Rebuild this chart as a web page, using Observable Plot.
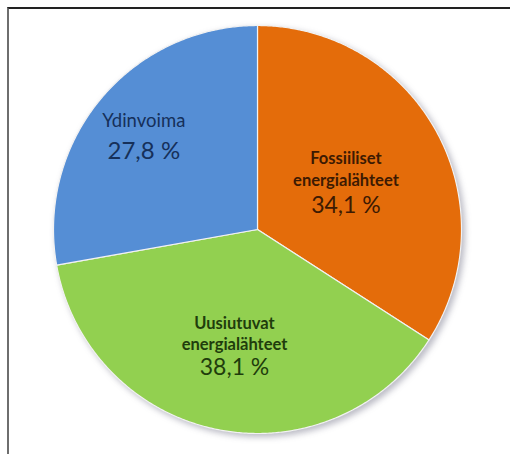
<!DOCTYPE html>
<html>
<head>
<meta charset="utf-8">
<script src="https://cdn.jsdelivr.net/npm/d3@7"></script>
<script src="https://cdn.jsdelivr.net/npm/@observablehq/plot@0.6"></script>
<style>
  html, body { margin: 0; padding: 0; background: #fff; }
  #wrap { position: relative; width: 510px; height: 454px; overflow: hidden; }
  #frame { position: absolute; left: 7px; top: 7px; width: 700px; height: 700px;
           border-top: 2px solid #222; border-left: 2px solid #6e6e6e; pointer-events: none; }
</style>
</head>
<body>
<div id="wrap"><div id="frame"></div></div>
<script>
// Data (clockwise from 12 o'clock)
const categories = ["Fossiiliset", "Uusiutuvat", "Ydinvoima"];
const labels = ["Fossiiliset\nenergialähteet", "Uusiutuvat\nenergialähteet", "Ydinvoima"];
const values = [34.1, 38.1, 27.8];
const colors = ["#E46C0A", "#92D050", "#558ED5"];
const textColors = ["#3d1a02", "#1f3d0c", "#16305a"];
// label placement (fraction of radius along mid-angle) and per-line offsets
const labelRadius = [0.494, 0.573, 0.727];
const nameDy = [-13, -11.5, -15];
const valueDy = [24, 24, 17];
const nameWeight = ["bold", "bold", "normal"];
const nameSize = [16.5, 16.5, 18.5];
const valueSize = [23, 23, 24];

const total = d3.sum(values);
const rad = a => a * Math.PI / 180;

// build slice outlines from the values
const slicePts = [];
const sliceInfo = [];
let acc = 0;
categories.forEach((c, i) => {
  const a0 = acc / total * 360;
  acc += values[i];
  const a1 = acc / total * 360;
  sliceInfo.push({cat: c, label: labels[i], value: values[i], mid: (a0 + a1) / 2, i});
  slicePts.push({cat: c, x: 0, y: 0});
  const n = Math.max(2, Math.ceil((a1 - a0) / 0.5));
  for (let k = 0; k <= n; k++) {
    const a = rad(a0 + (a1 - a0) * k / n);
    slicePts.push({cat: c, x: Math.sin(a), y: Math.cos(a)});
  }
  slicePts.push({cat: c, x: 0, y: 0});
});

const fmt = v => v.toFixed(1).replace(".", ",") + " %";
const lx = d => labelRadius[d.i] * Math.sin(rad(d.mid));
const ly = d => labelRadius[d.i] * Math.cos(rad(d.mid));

const textMarks = sliceInfo.map(d => [
  Plot.text([d], {x: lx, y: ly, text: "label", lineAnchor: "middle", dy: nameDy[d.i],
    fill: textColors[d.i], fontSize: nameSize[d.i],
    fontWeight: nameWeight[d.i], lineHeight: 1.3, fontFamily: "Lato, sans-serif"}),
  Plot.text([d], {x: lx, y: ly, text: d => fmt(d.value), lineAnchor: "middle", dy: valueDy[d.i],
    fill: textColors[d.i], fontSize: valueSize[d.i], fontFamily: "Lato, sans-serif"})
]).flat();

const chart = Plot.plot({
  width: 510,
  height: 454,
  marginLeft: 53,
  marginRight: 49,
  marginTop: 25,
  marginBottom: 21,
  x: {domain: [-1, 1], axis: null},
  y: {domain: [-1, 1], axis: null},
  color: {domain: categories, range: colors},
  style: {background: "transparent", overflow: "visible"},
  marks: [
    Plot.line(slicePts, {x: "x", y: "y", z: "cat", fill: "cat", stroke: "#f2f2f2",
      strokeWidth: 1.2, curve: "linear"}),
    ...textMarks
  ]
});
chart.style.position = "absolute";
chart.style.left = "0px";
chart.style.top = "0px";
const g = chart.querySelector('g[aria-label="line"]');
if (g) g.style.filter = "drop-shadow(3px 3px 3px rgba(60,60,90,0.35))";
document.getElementById("wrap").prepend(chart);
</script>
</body>
</html>
